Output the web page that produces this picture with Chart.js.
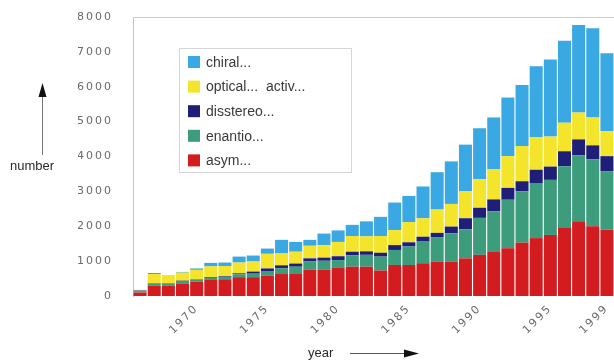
<!DOCTYPE html>
<html>
<head>
<meta charset="utf-8">
<script src="https://cdn.jsdelivr.net/npm/chart.js@4.4.0/dist/chart.umd.min.js"></script>
<style>
html, body { margin: 0; padding: 0; background: #fff; }
#wrap { width: 614px; height: 360px; }
</style>
</head>
<body>
<div id="wrap"><canvas id="graficaAnios" width="614" height="360"></canvas></div>
<script>
// datos
const anios = ['1966','1967','1968','1969','1970','1971','1972','1973','1974','1975','1976','1977',
    '1978','1979','1980','1981','1982','1983','1984','1985','1986','1987','1988','1989',
    '1990','1991','1992','1993','1994','1995','1996','1997','1998','1999'];
const etiquetasX = ['1970','1975','1980','1985','1990','1995','1999'];
const ticksY = [0, 1000, 2000, 3000, 4000, 5000, 6000, 7000, 8000];

const asym = [100, 300, 300, 360, 410, 460, 480, 540, 540, 580, 630, 650,
    750, 750, 820, 840, 840, 730, 890, 890, 940, 990, 990, 1080,
    1180, 1280, 1370, 1530, 1660, 1750, 1950, 2140, 2000, 1900];
const enantio = [40, 60, 60, 70, 60, 60, 70, 80, 100, 120, 160, 190,
    240, 260, 210, 330, 340, 400, 430, 530, 620, 700, 810, 830,
    1060, 1150, 1390, 1470, 1580, 1580, 1770, 1890, 1920, 1680];
const diastereo = [15, 10, 10, 10, 10, 20, 20, 30, 60, 90, 90, 90,
    90, 90, 110, 100, 100, 110, 140, 120, 140, 120, 190, 320,
    290, 340, 340, 290, 380, 380, 430, 460, 400, 430];
const optical = [10, 260, 220, 230, 270, 310, 290, 310, 290, 420, 340, 340,
    360, 360, 410, 450, 430, 480, 430, 580, 530, 670, 650, 770,
    820, 860, 910, 1010, 940, 860, 820, 770, 800, 720];
const chiral = [10, 30, 10, 20, 40, 100, 100, 170, 170, 150, 390, 280,
    170, 330, 330, 320, 430, 550, 790, 750, 910, 1070, 1220, 1340,
    1460, 1490, 1680, 1750, 2030, 2210, 2350, 2510, 2560, 2230];

const nombres = ['asym...', 'enantio...', 'disstereo...', 'optical...  activ...', 'chiral...'];
const colores = ['#d21c1f', '#3c9c7c', '#1f1f78', '#f4e52c', '#3aa8e2'];

// leyenda, flechas y línea superior dibujadas a mano
const extras = {
    id: 'extras',
    beforeDraw(chart) {
        chart.ctx.letterSpacing = '2px';
    },
    beforeDatasetsDraw(chart) {
        chart.ctx.letterSpacing = '0px';
    },
    afterDraw(chart) {
        const ctx = chart.ctx;
        const a = chart.chartArea;
        ctx.save();
        ctx.letterSpacing = '0px';

        // línea superior
        ctx.strokeStyle = '#cfcfcf';
        ctx.lineWidth = 1;
        ctx.beginPath();
        ctx.moveTo(a.left, a.top + 0.5);
        ctx.lineTo(a.right, a.top + 0.5);
        ctx.stroke();

        // leyenda
        const lx = 179, ly = 48, lw = 172, lh = 124;
        ctx.strokeStyle = '#d6d6d6';
        ctx.strokeRect(lx + 0.5, ly + 0.5, lw, lh);
        ctx.font = '14px "Liberation Sans", Arial, sans-serif';
        ctx.textBaseline = 'middle';
        ctx.textAlign = 'left';
        const ds = chart.data.datasets.slice().reverse();
        ds.forEach((d, i) => {
            const y = 62 + i * 24.6;
            ctx.fillStyle = d.backgroundColor;
            ctx.fillRect(188, y - 6, 12, 12);
            ctx.fillStyle = '#3a3a3a';
            ctx.fillText(d.label, 206, y + 1);
        });

        // "number" con flecha hacia arriba
        ctx.fillStyle = '#2a2a2a';
        ctx.font = '13px "Liberation Sans", Arial, sans-serif';
        ctx.textAlign = 'left';
        ctx.fillText('number', 10, 166);
        ctx.strokeStyle = '#777';
        ctx.beginPath();
        ctx.moveTo(42.5, 155);
        ctx.lineTo(42.5, 95);
        ctx.stroke();
        ctx.fillStyle = '#111';
        ctx.beginPath();
        ctx.moveTo(42.5, 83);
        ctx.lineTo(38.5, 97);
        ctx.lineTo(46.5, 97);
        ctx.closePath();
        ctx.fill();

        // "year" con flecha a la derecha
        ctx.fillStyle = '#2a2a2a';
        ctx.fillText('year', 308, 353);
        ctx.strokeStyle = '#555';
        ctx.beginPath();
        ctx.moveTo(350, 353.5);
        ctx.lineTo(406, 353.5);
        ctx.stroke();
        ctx.fillStyle = '#111';
        ctx.beginPath();
        ctx.moveTo(419, 353.5);
        ctx.lineTo(404, 349.5);
        ctx.lineTo(404, 357.5);
        ctx.closePath();
        ctx.fill();
        ctx.restore();
    }
};

const series = [asym, enantio, diastereo, optical, chiral];
const ctxAnios = document.getElementById('graficaAnios').getContext('2d');
new Chart(ctxAnios, {
    type: 'bar',
    data: {
        labels: anios,
        datasets: series.map((s, i) => ({
            label: nombres[i],
            data: s,
            backgroundColor: colores[i],
            borderWidth: 0,
            barPercentage: 0.92,
            categoryPercentage: 1
        }))
    },
    options: {
        responsive: false,
        animation: false,
        devicePixelRatio: 1,
        layout: { padding: { left: 78, right: 0, top: 17, bottom: 0 } },
        plugins: {
            legend: { display: false },
            tooltip: { enabled: false }
        },
        scales: {
            x: {
                stacked: true,
                grid: { display: false },
                border: { display: false },
                ticks: {
                    autoSkip: false,
                    maxRotation: 45,
                    minRotation: 45,
                    padding: -2,
                    color: '#6a6a6a',
                    font: { family: '"DejaVu Sans"', size: 11 },
                    callback: function (v, i) {
                        const l = anios[i];
                        return etiquetasX.includes(l) ? l : '';
                    }
                },
                afterFit: (scale) => {
                    scale.height = 64;
                    scale.paddingRight = 0;
                    scale.paddingLeft = 0;
                }
            },
            y: {
                stacked: true,
                min: ticksY[0],
                max: ticksY[ticksY.length - 1],
                grid: { display: false },
                border: { display: true, color: '#c4c4c4' },
                ticks: {
                    stepSize: 1000,
                    padding: 12,
                    color: '#6a6a6a',
                    font: { family: '"DejaVu Sans"', size: 11 },
                    callback: (v) => String(v)
                },
                afterFit: (scale) => {
                    scale.width = 55;
                    scale.paddingTop = 0;
                    scale.paddingBottom = 0;
                }
            }
        }
    },
    plugins: [extras]
});
</script>
</body>
</html>
